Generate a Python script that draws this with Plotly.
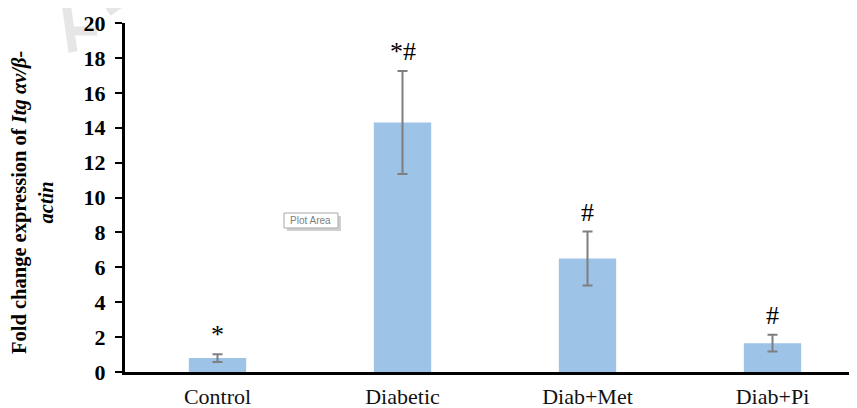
import plotly.graph_objects as go

# ---- data ----
categories = ["Control", "Diabetic", "Diab+Met", "Diab+Pi"]
fold_change = [0.8, 14.3, 6.5, 1.65]
error_sd = [0.22, 2.95, 1.55, 0.48]
sig_labels = ["*", "*#", "#", "#"]
y_ticks = [0, 2, 4, 6, 8, 10, 12, 14, 16, 18, 20]

# page body adds an 8px offset; size the figure so the plot area lands
# at screen x 125..857, y 23..372
OFF = 8
W, H = 857 - OFF, 408 - OFF
L, R, T, B = 125 - OFF, 0, 23 - OFF, 408 - 372
PW = W - L - R
PH = H - T - B


def px_x(x):  # screen px -> paper
    return (x - 125) / PW


def px_y(y):
    return 1 - (y - 23) / PH


fig = go.Figure()
fig.add_trace(go.Bar(
    x=categories,
    y=fold_change,
    width=0.31,
    marker=dict(color="#9DC3E6", line=dict(width=0)),
    error_y=dict(type="data", array=error_sd, visible=True,
                 color="#7f7f7f", thickness=2, width=5),
    showlegend=False,
))

annotations = []
for c, v, e, s in zip(categories, fold_change, error_sd, sig_labels):
    annotations.append(dict(
        x=c, y=v + e, xref="x", yref="y", text=s, showarrow=False,
        yanchor="bottom", yshift=3,
        font=dict(family="Liberation Serif", size=26, color="#000000"),
    ))

# y-axis title
annotations.append(dict(
    x=px_x(32), y=px_y(202), xref="paper", yref="paper", showarrow=False,
    textangle=-90, xanchor="center", yanchor="middle", align="center",
    text="<b>Fold change expression of <i>Itg αv/β-</i><br><i>actin</i></b>",
    font=dict(family="Liberation Serif", size=20.5, color="#000000"),
))

# "Plot Area" tooltip artefact (text only; box drawn with shapes)
annotations.append(dict(
    x=px_x(310.5), y=px_y(220), xref="paper", yref="paper", showarrow=False,
    text="Plot Area", font=dict(family="Liberation Sans", size=10, color="#808080"),
    xanchor="center", yanchor="middle",
))

shapes = []
wm = "#e6e6e6"
for (x0, y0, x1, y1) in [(65, -5, 73, 52), (73, 31, 97, 31), (108, 12, 130, -3)]:
    shapes.append(dict(type="line", xref="paper", yref="paper",
                       x0=px_x(x0), y0=px_y(y0), x1=px_x(x1), y1=px_y(y1),
                       line=dict(color=wm, width=9), layer="below"))
# tooltip shadow and box
shapes.append(dict(type="rect", xref="paper", yref="paper",
                   x0=px_x(287), x1=px_x(341), y0=px_y(231), y1=px_y(216),
                   fillcolor="#d0d0d0", line=dict(width=0), layer="above"))
shapes.append(dict(type="rect", xref="paper", yref="paper",
                   x0=px_x(284), x1=px_x(338), y0=px_y(228), y1=px_y(213),
                   fillcolor="white", line=dict(color="#a8a8a8", width=1),
                   layer="above"))

fig.update_layout(
    width=W, height=H,
    margin=dict(l=L, r=R, t=T, b=B, pad=0, autoexpand=False),
    paper_bgcolor="white", plot_bgcolor="white",
    annotations=annotations,
    shapes=shapes,
    xaxis=dict(
        range=[-0.5, -0.5 + PW / 185.0],
        showline=True, linecolor="black", linewidth=3,
        ticks="", showgrid=False, zeroline=False, automargin=False,
        tickfont=dict(family="Liberation Serif", size=22, color="#111111"),
        ticklabelstandoff=3,
    ),
    yaxis=dict(
        range=[0, 20], tickvals=y_ticks,
        ticktext=[f"<b>{v}</b>" for v in y_ticks],
        showline=True, linecolor="black", linewidth=3,
        ticks="outside", ticklen=7, tickwidth=2, tickcolor="black",
        showgrid=False, zeroline=False, automargin=False,
        tickfont=dict(family="Liberation Serif", size=22, color="#000000"),
        ticklabelstandoff=5,
    ),
)

fig.write_html("out.html")
